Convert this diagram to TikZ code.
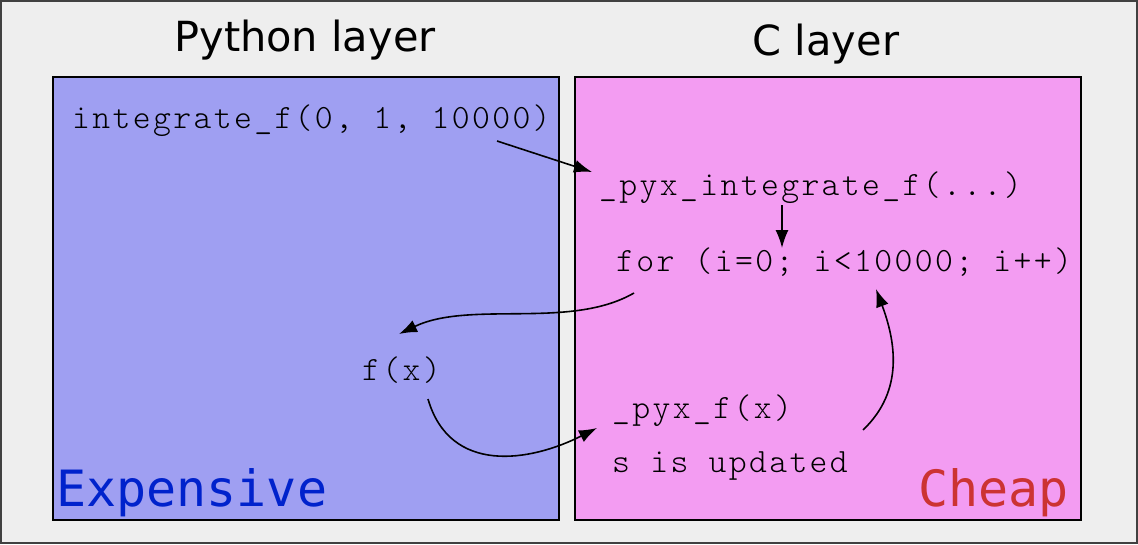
\documentclass[tikz,border=0pt]{standalone}
\usepackage{fontspec}
\setmainfont{DejaVu Sans}
\newfontfamily\codefont[LetterSpace=7.0]{Latin Modern Mono Light}
\newfontfamily\tagfont{DejaVu Sans Mono}
\usetikzlibrary{arrows.meta}
\definecolor{bgray}{HTML}{EEEEEE}
\definecolor{pyblue}{HTML}{9F9FF2}
\definecolor{cpink}{HTML}{F39CF2}
\definecolor{expblue}{HTML}{0022CC}
\definecolor{cheapred}{HTML}{CC3333}
\tikzset{
  layerbox/.style={draw=black, line width=2pt},
  heading/.style={inner sep=0pt, anchor=base, font=\fontsize{41.5}{48}\selectfont},
  code/.style={inner sep=0pt, anchor=base west, font=\codefont\fontsize{34}{40}\selectfont},
  tag/.style={inner sep=0pt, anchor=base west, font=\tagfont\fontsize{50}{56}\selectfont},
  flow/.style={line width=1.6pt, -{Latex[length=18pt,width=13pt]}},
}
\begin{document}
\begin{tikzpicture}[x=1pt,y=-1pt]
\useasboundingbox (0,0) rectangle (1138,544);
\draw[fill=bgray, draw=black!75, line width=2pt] (1,1) rectangle (1137,543);
\draw[layerbox, fill=pyblue] (53,77) rectangle (559,520);
\draw[layerbox, fill=cpink] (575,77) rectangle (1081,520);

\node[heading] (pyh) at (305,51) {Python layer};
\node[heading] (ch) at (826,55) {C layer};

\node[code] (intf) at (72,128) {integrate\_f(0, 1, 10000)};
\node[code] (pyxint) at (599,195) {\_pyx\_integrate\_f(...)};
\node[code] (forloop) at (616,271) {for (i=0; i<10000; i++)};
\node[code] (fx) at (362,380) {f(x)};
\node[code] (pyxf) at (612,418) {\_pyx\_f(x)};
\node[code] (supd) at (612,472) {s is updated};

\node[tag, text=expblue] (exp) at (56,506) {Expensive};
\node[tag, text=cheapred] (cheap) at (918,506) {Cheap};

\coordinate (a1s) at (497,141);
\coordinate (a1e) at (592,172);
\coordinate (a2s) at (782,205);
\coordinate (a2e) at (782,248);
\coordinate (a3s) at (634,293);
\coordinate (a3e) at (399,334);
\coordinate (a4s) at (428,399);
\coordinate (a4e) at (597,428);
\coordinate (a5s) at (863,430);
\coordinate (a5e) at (876,289);

\draw[flow] (a1s) -- (a1e);
\draw[flow] (a2s) -- (a2e);
\draw[flow] (a3s) .. controls (570,330) and (470,300) .. (a3e);
\draw[flow] (a4s) .. controls (450,475) and (530,462) .. (a4e);
\draw[flow] (a5s) .. controls (905,390) and (895,340) .. (a5e);
\end{tikzpicture}
\end{document}
